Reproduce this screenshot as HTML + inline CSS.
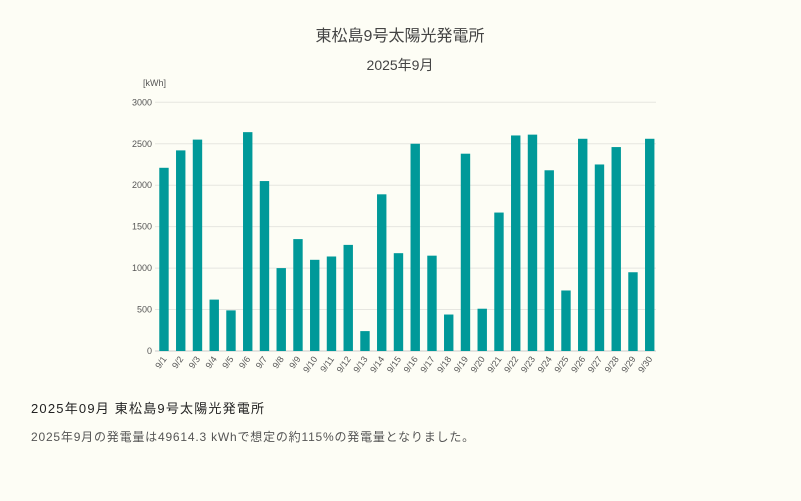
<!DOCTYPE html>
<html><head><meta charset="utf-8"><style>
body{margin:0;background:#fdfdf5;}
svg{display:block}
text{font-family:"Liberation Sans","Noto Sans CJK JP",sans-serif;}
</style></head><body>
<svg width="801" height="501" xmlns="http://www.w3.org/2000/svg">
<rect width="801" height="501" fill="#fdfdf5"/>
<text x="400" y="41" text-anchor="middle" font-size="16" fill="#444">東松島9号太陽光発電所</text>
<text x="400" y="70" text-anchor="middle" font-size="14" fill="#444">2025年9月</text>
<text x="143" y="86" font-size="9" fill="#555">[kWh]</text>
<g id="grid" stroke="#e6e6e0" stroke-width="1"></g>
<g id="bars"></g>
<g id="labels" font-size="9" fill="#555"></g>
<text x="31" y="413" font-size="13" fill="#222" letter-spacing="1.2">2025年09月  東松島9号太陽光発電所</text>
<text x="31" y="441" font-size="12" fill="#555" letter-spacing="0.8">2025年9月の発電量は49614.3 kWhで想定の約115%の発電量となりました。</text>
<script>
const v=[2210,2420,2550,620,490,2640,2050,1000,1350,1100,1140,1280,240,1890,1180,2500,1150,440,2380,510,1670,2600,2610,2180,730,2560,2250,2460,950,2560];
const ns="http://www.w3.org/2000/svg";
const y0=351,k=(351-102.3)/3000;
let g=document.getElementById('grid'),b=document.getElementById('bars'),l=document.getElementById('labels');
for(let t=0;t<=3000;t+=500){let y=y0-t*k;
 let ln=document.createElementNS(ns,'line');ln.setAttribute('x1',155);ln.setAttribute('x2',656);ln.setAttribute('y1',y);ln.setAttribute('y2',y);
 if(t==0)ln.setAttribute('stroke','#ccc');g.appendChild(ln);
 let tx=document.createElementNS(ns,'text');tx.setAttribute('x',152);tx.setAttribute('y',y+3);tx.setAttribute('text-anchor','end');tx.textContent=t;l.appendChild(tx);}
const bw=16.75;
v.forEach((val,i)=>{let cx=155.6+bw*(i+0.5);let h=val*k;
 let r=document.createElementNS(ns,'rect');r.setAttribute('x',cx-4.7);r.setAttribute('width',9.4);r.setAttribute('y',y0-h);r.setAttribute('height',h);r.setAttribute('fill','#009999');b.appendChild(r);
 let tx=document.createElementNS(ns,'text');tx.setAttribute('transform',`translate(${cx+3},${y0+8}) rotate(-55)`);tx.setAttribute('text-anchor','end');tx.textContent='9/'+(i+1);l.appendChild(tx);});
</script>
</svg>
</body></html>
